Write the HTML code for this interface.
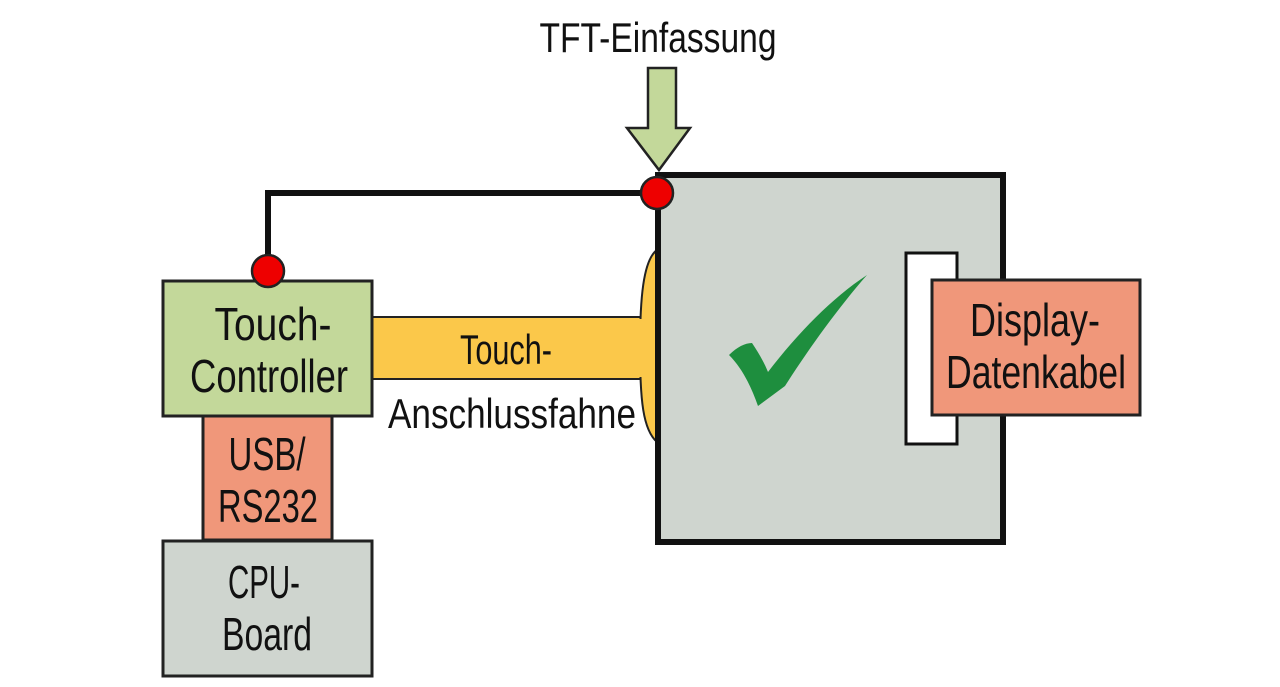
<!DOCTYPE html>
<html><head><meta charset="utf-8"><style>html,body{margin:0;padding:0;background:#fff}svg{display:block}</style></head>
<body>
<svg width="1280" height="687" viewBox="0 0 1280 687" xmlns="http://www.w3.org/2000/svg" font-family="Liberation Sans, sans-serif" fill="#111">
<polyline points="268,270 268,193 657,193" fill="none" stroke="#111" stroke-width="6"/>
<rect x="370" y="317" width="280" height="62" fill="#fbc84a" stroke="#222" stroke-width="2"/>
<path d="M657,250 C643,260 640,300 640,348 C640,400 643,430 657,442 Z" fill="#fbc84a" stroke="#222" stroke-width="2"/>
<rect x="372" y="319" width="276" height="58" fill="#fbc84a"/>
<rect x="658" y="175" width="345" height="367" fill="#cfd5cf" stroke="#111" stroke-width="6"/>
<rect x="906" y="253" width="51" height="191" fill="#fff" stroke="#111" stroke-width="3"/>
<rect x="932" y="280" width="208" height="135" fill="#f0977a" stroke="#222" stroke-width="3"/>
<path d="M729,355 C737,347 745,343 752,343 C758,352 764,362 768,372 C798,333 832,298 867,275 C838,308 808,350 785,386 L758,406 C751,386 742,368 729,355 Z" fill="#1e8e3e"/>
<rect x="163" y="281" width="209" height="135" fill="#c3d89a" stroke="#222" stroke-width="3"/>
<rect x="203" y="416" width="129" height="124" fill="#f0977a" stroke="#222" stroke-width="3"/>
<rect x="163" y="541" width="209" height="135" fill="#cfd5cf" stroke="#222" stroke-width="3"/>
<path d="M648,68 L676,68 L676,128 L690,128 L659,170 L627,128 L648,128 Z" fill="#c3d89a" stroke="#222" stroke-width="2.5"/>
<circle cx="268" cy="271" r="16" fill="#e00" stroke="#222" stroke-width="2.5"/>
<circle cx="657" cy="193" r="16" fill="#e00" stroke="#222" stroke-width="2.5"/>
<g font-size="46" text-anchor="middle">
<text x="273" y="340" textLength="117" lengthAdjust="spacingAndGlyphs">Touch-</text>
<text x="269" y="392" textLength="158" lengthAdjust="spacingAndGlyphs">Controller</text>
<text x="267" y="470" textLength="77" lengthAdjust="spacingAndGlyphs">USB/</text>
<text x="268" y="522" textLength="100" lengthAdjust="spacingAndGlyphs">RS232</text>
<text x="264" y="598" textLength="72" lengthAdjust="spacingAndGlyphs">CPU-</text>
<text x="267" y="650" textLength="90" lengthAdjust="spacingAndGlyphs">Board</text>
<text x="1035" y="336" textLength="130" lengthAdjust="spacingAndGlyphs">Display-</text>
<text x="1036" y="388" textLength="180" lengthAdjust="spacingAndGlyphs">Datenkabel</text>
</g>
<g font-size="42" text-anchor="middle">
<text x="506" y="364" textLength="92" lengthAdjust="spacingAndGlyphs">Touch-</text>
<text x="512" y="428" textLength="248" lengthAdjust="spacingAndGlyphs">Anschlussfahne</text>
<text x="658" y="52" textLength="237" lengthAdjust="spacingAndGlyphs">TFT-Einfassung</text>
</g>
</svg>
</body></html>
